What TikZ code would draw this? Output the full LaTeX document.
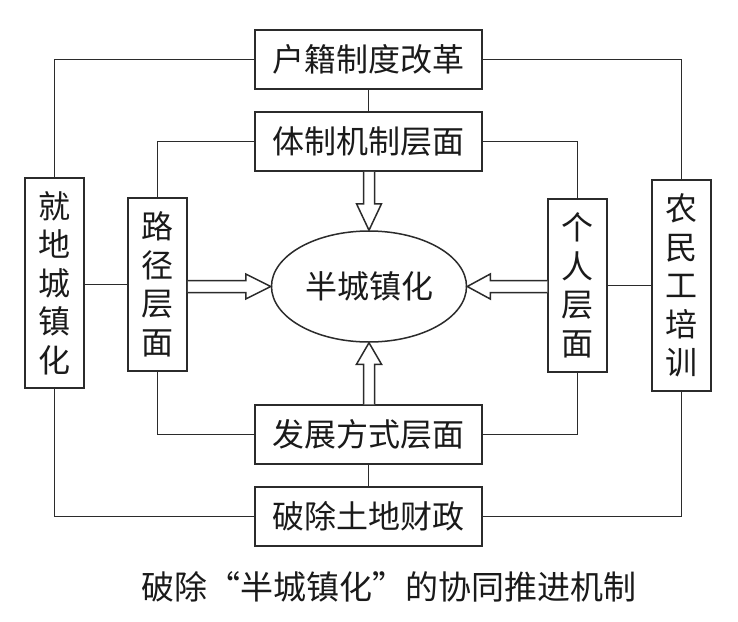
\documentclass[tikz,border=0pt]{standalone}
\usepackage{fontspec}
\newfontfamily\cjk{Noto Sans CJK SC}
\usetikzlibrary{shapes.geometric,calc}
\definecolor{lc}{HTML}{2B2B2B}
\definecolor{tc}{HTML}{1A1A1A}
\begin{document}
\begin{tikzpicture}[x=1pt,y=-1pt,
  line/.style={draw=lc,line width=1.5pt},
  txt/.style={text=tc,font=\cjk\fontsize{32}{38.5}\selectfont},
  hbox/.style={txt,draw=lc,line width=1.5pt,minimum width=227pt,minimum height=59pt,inner sep=0pt},
  vbox/.style={txt,draw=lc,line width=1.5pt,minimum width=59pt,inner sep=0pt,align=center},
  ell/.style={txt,ellipse,draw=lc,line width=1.5pt,minimum width=195pt,minimum height=111pt,inner sep=0pt},
  blk/.style={draw=lc,line width=1.5pt,fill=white,line join=miter},
  captxt/.style={text=tc,font=\cjk\fontsize{33}{36}\selectfont,inner sep=0pt}]
\useasboundingbox (0,0) rectangle (738,621);
\fill[white] (0,0) rectangle (738,621);

\node[hbox] (hj) at (368.5,59.5) {户籍制度改革};
\node[hbox] (tz) at (368.5,141.5) {体制机制层面};
\node[hbox] (fz) at (368.5,434.5) {发展方式层面};
\node[hbox] (pc) at (368.5,516.5) {破除土地财政};
\node[vbox,minimum height=210pt] (jd) at (54.5,283) {就\\地\\城\\镇\\化};
\node[vbox,minimum height=173pt] (lj) at (157.5,284.5) {路\\径\\层\\面};
\node[vbox,minimum height=173pt] (gr) at (577.5,285.5) {个\\人\\层\\面};
\node[vbox,minimum height=211pt] (nm) at (681.5,285.5) {农\\民\\工\\培\\训};
\node[ell] (bc) at (369,286.5) {半城镇化};
\node[captxt] (cap) at (389,587) {破除“半城镇化”的协同推进机制};

% connectors
\draw[line] (hj.west) -| (jd.north);
\draw[line] (hj.east) -| (nm.north);
\draw[line] (hj.south) -- (tz.north);
\draw[line] (tz.west) -| (lj.north);
\draw[line] (tz.east) -| (gr.north);
\draw[line] (lj.west) -- (lj.west -| jd.east);
\draw[line] (gr.east) -- (gr.east -| nm.west);
\draw[line] (lj.south) |- (fz.west);
\draw[line] (gr.south) |- (fz.east);
\draw[line] (fz.south) -- (pc.north);
\draw[line] (jd.south) |- (pc.west);
\draw[line] (nm.south) |- (pc.east);

% block arrows
\coordinate (d0) at (tz.south -| bc.north);
\draw[blk] ($(d0)+(-5.5,0)$) -- ++(0,32) -- ++(-7,0) -- (bc.north) -- ($(d0)+(12.5,32)$) -- ++(-7,0) -- ($(d0)+(5.5,0)$);
\coordinate (u0) at (fz.north -| bc.south);
\draw[blk] ($(u0)+(-5.5,0)$) -- ++(0,-40) -- ++(-7,0) -- (bc.south) -- ($(u0)+(12.5,-40)$) -- ++(-7,0) -- ($(u0)+(5.5,0)$);
\coordinate (l0) at (lj.east |- bc.west);
\draw[blk] ($(l0)+(0,-6)$) -- ++(58,0) -- ++(0,-6.5) -- (bc.west) -- ($(l0)+(58,12.5)$) -- ++(0,-6.5) -- ($(l0)+(0,6)$);
\coordinate (r0) at (gr.west |- bc.east);
\draw[blk] ($(r0)+(0,-6)$) -- ++(-57,0) -- ++(0,-6.5) -- (bc.east) -- ($(r0)+(-57,12.5)$) -- ++(0,-6.5) -- ($(r0)+(0,6)$);
\end{tikzpicture}
\end{document}
